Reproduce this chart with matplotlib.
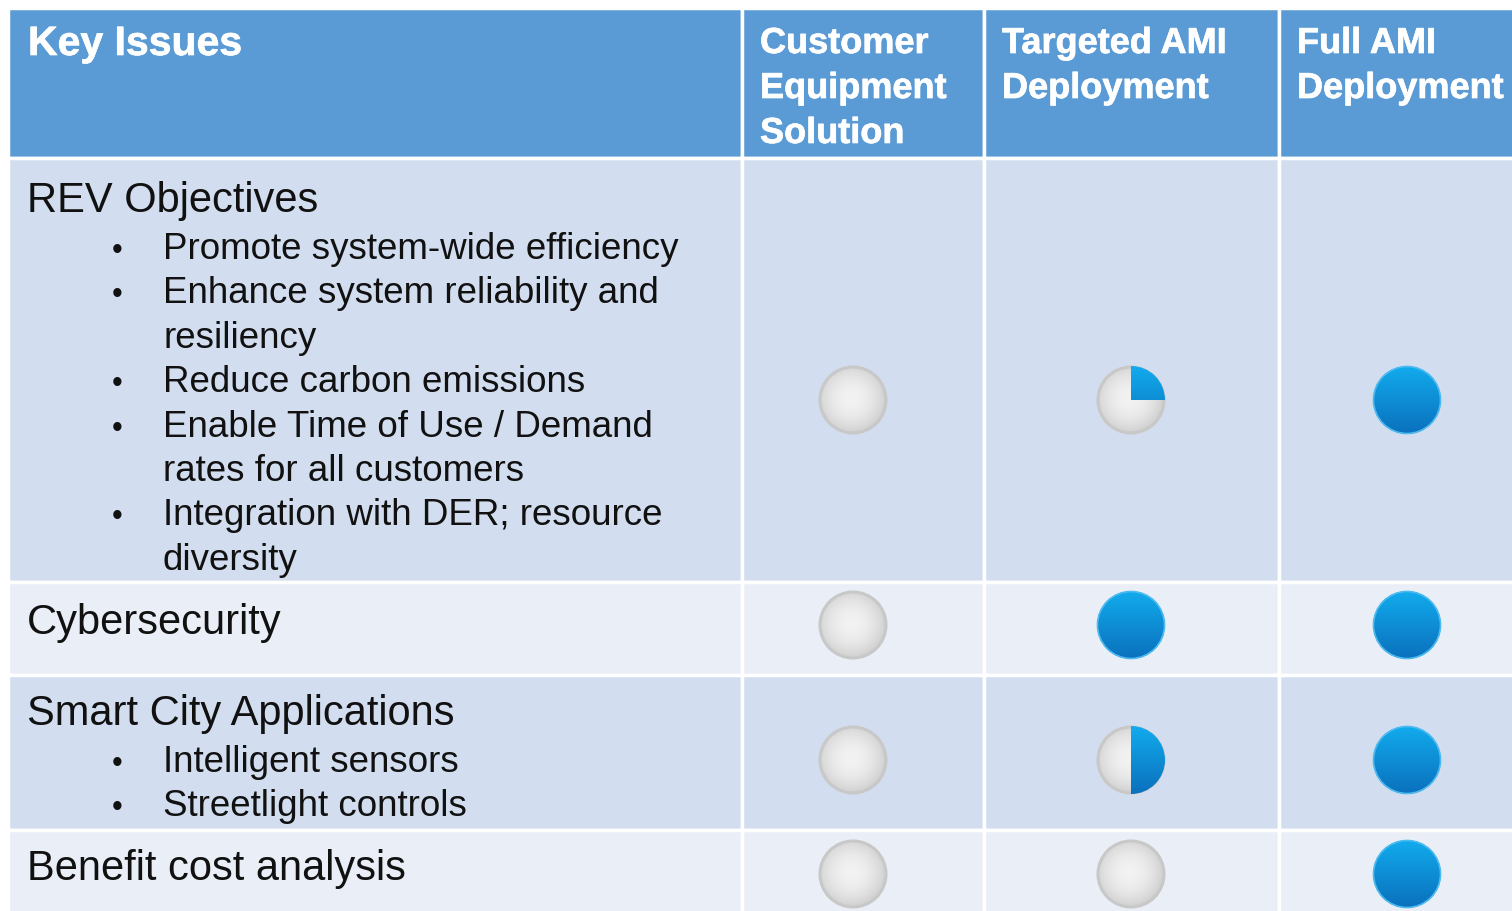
import numpy as np
import matplotlib.pyplot as plt
import matplotlib.patheffects as pe
from matplotlib.patches import Rectangle, Circle, Wedge

plt.rcParams["font.family"] = ["Liberation Sans", "DejaVu Sans"]

# table content
col_headers = ["Customer\nEquipment\nSolution", "Targeted AMI\nDeployment", "Full AMI\nDeployment"]
issues = ["REV Objectives", "Cybersecurity", "Smart City Applications", "Benefit cost analysis"]
bullets = [
    ["Promote system-wide efficiency",
     "Enhance system reliability and\nresiliency",
     "Reduce carbon emissions",
     "Enable Time of Use / Demand\nrates for all customers",
     "Integration with DER; resource\ndiversity"],
    [],
    ["Intelligent sensors", "Streetlight controls"],
    [],
]
# harvey ball fill (fraction) per issue, per option
scores = [
    [0.0, 0.25, 1.0],
    [0.0, 1.0, 1.0],
    [0.0, 0.5, 1.0],
    [0.0, 0.0, 1.0],
]

# layout (pixels)
W, H = 1512, 912
col_x = [8, 742, 984, 1279, 1530]
row_y = [9, 159, 583, 676, 831, 930]
row_colors = ["#5B9BD5", "#D2DEEF", "#EAEFF7", "#D2DEEF", "#EAEFF7"]
ball_cx = [853, 1131, 1407]
ball_cy = [401, 626, 761, 875]
R = 34
line_h = 44.4

fig = plt.figure(figsize=(W / 100, H / 100), dpi=100)
ax = fig.add_axes([0, 0, 1, 1])
ax.set_xlim(0, W)
ax.set_ylim(H, 0)
ax.axis("off")

# cells
for r in range(len(row_y) - 1):
    for c in range(len(col_x) - 1):
        ax.add_patch(Rectangle((col_x[c], row_y[r]), col_x[c + 1] - col_x[c], row_y[r + 1] - row_y[r],
                               facecolor=row_colors[r], edgecolor="white", lw=2.5, zorder=1))

txt_fx = [pe.withStroke(linewidth=0.5, foreground="white")]

# header text
ax.text(28, 56, "Key Issues", color="white", fontsize=29.5, fontweight="bold", va="baseline",
        zorder=3, path_effects=txt_fx)
for c, h in enumerate(col_headers):
    ax.text(col_x[c + 1] + 18, 27, h, color="white", fontsize=26, fontweight="bold",
            va="top", linespacing=1.37, zorder=3, path_effects=txt_fx)

# issue text
first_base = [212, 634, 725, 880]
for i, name in enumerate(issues):
    ax.text(27, first_base[i], name, fontsize=30, va="baseline", color="#111111", zorder=3)
    y = first_base[i] + 47
    for b in bullets[i]:
        ax.text(117, y, "\u2022", fontsize=22, va="baseline", ha="center", color="#111111", zorder=3)
        for ln in b.split("\n"):
            ax.text(163, y, ln, fontsize=26.5, va="baseline", color="#111111", zorder=3)
            y += line_h


def grad_img(kind, n=120):
    yy, xx = np.mgrid[-1:1:n * 1j, -1:1:n * 1j]
    if kind == "grey":
        d = np.clip(np.hypot(xx + 0.05, yy + 0.05), 0, 1)
        top = np.array([0.95, 0.95, 0.95])
        bot = np.array([0.82, 0.82, 0.82])
        return top[None, None, :] * (1 - d[..., None] ** 2) + bot[None, None, :] * d[..., None] ** 2
    t = (yy + 1) / 2
    top = np.array([0.07, 0.67, 0.93])
    bot = np.array([0.04, 0.44, 0.74])
    return top[None, None, :] * (1 - t[..., None]) + bot[None, None, :] * t[..., None]


grey = grad_img("grey")
blue = grad_img("blue")

for i, row in enumerate(scores):
    for j, v in enumerate(row):
        cx, cy = ball_cx[j], ball_cy[i]
        ext = (cx - R, cx + R, cy + R, cy - R)
        if v < 1:
            clip = Circle((cx, cy), R, transform=ax.transData)
            im = ax.imshow(grey, extent=ext, zorder=2, interpolation="bilinear")
            im.set_clip_path(clip)
            ax.add_patch(Circle((cx, cy), R - 1, facecolor="none", edgecolor="#C8C8C8", lw=2.2, zorder=2.5))
        if v > 0:
            if v >= 1:
                shape = Circle((cx, cy), R, transform=ax.transData)
            else:
                # clockwise from 12 o'clock (y axis is inverted)
                shape = Wedge((cx, cy), R, -90, -90 + 360 * v, transform=ax.transData)
            im = ax.imshow(blue, extent=ext, zorder=2.6, interpolation="bilinear")
            im.set_clip_path(shape)
            if v >= 1:
                ax.add_patch(Circle((cx, cy), R - 0.5, facecolor="none", edgecolor="#4DBBF0", lw=1.2, zorder=2.7))

fig.savefig("out.png", dpi=100)
